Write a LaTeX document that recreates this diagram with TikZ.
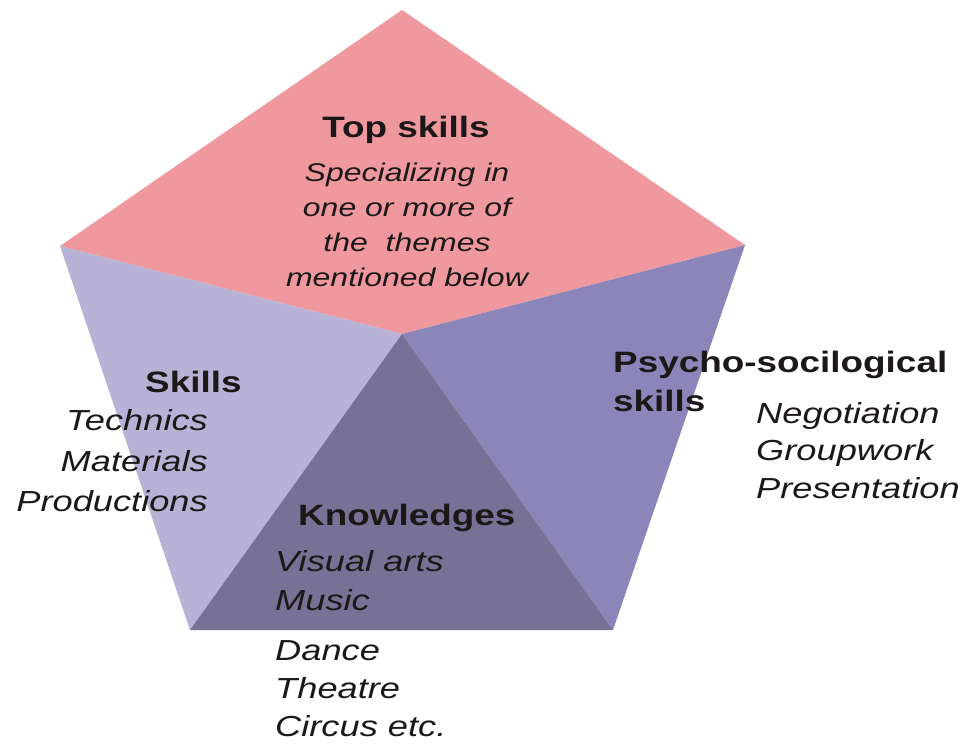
\documentclass[tikz,border=0pt]{standalone}
\usepackage{fontspec}
\setmainfont[FakeStretch=1.25]{Liberation Sans}
\definecolor{toppink}{RGB}{239,152,158}
\definecolor{leftlav}{RGB}{183,178,214}
\definecolor{rightlav}{RGB}{140,133,185}
\definecolor{midlav}{RGB}{120,113,150}
\definecolor{txt}{RGB}{28,24,24}
\begin{document}
\begin{tikzpicture}[x=1pt,y=-1pt,
  head/.style={font=\fontsize{29.5}{32}\selectfont\bfseries, inner sep=0pt, text=txt},
  item/.style={font=\fontsize{29}{32}\selectfont\itshape, inner sep=0pt, text=txt},
  topitem/.style={font=\fontsize{25.6}{28}\selectfont\itshape, inner sep=0pt, text=txt}]
\useasboundingbox (0,0) rectangle (967,748);
\fill[white] (0,0) rectangle (967,748);
% pentagon vertices
\coordinate (T) at (402,10);
\coordinate (UL) at (60,246);
\coordinate (UR) at (745,245);
\coordinate (LL) at (190,630);
\coordinate (LR) at (613,630);
\coordinate (C) at (402,334);
% faces
\fill[toppink] (T) -- (UR) -- (C) -- (UL) -- cycle;
\fill[leftlav] (UL) -- (C) -- (LL) -- cycle;
\fill[rightlav] (UR) -- (LR) -- (C) -- cycle;
\fill[midlav] (C) -- (LL) -- (LR) -- cycle;
% top face text
\node[head, anchor=base] (tophead) at (406,137) {Top skills};
\node[topitem, anchor=base] (top1) at (407,181.7) {Specializing in};
\node[topitem, anchor=base] (top2) at (407,216.7) {one or more of};
\node[topitem, anchor=base] (top3) at (407,251.7) {the\ \ themes};
\node[topitem, anchor=base] (top4) at (407,286.7) {mentioned below};
% left face text
\node[head, anchor=base west] (skillshead) at (145,392) {Skills};
\node[item, anchor=base east] (sk1) at (208,430) {Technics};
\node[item, anchor=base east] (sk2) at (208,471.7) {Materials};
\node[item, anchor=base east] (sk3) at (208,511.7) {Productions};
% right face text
\node[head, anchor=base west] (psyhead1) at (613,372) {Psycho-socilogical};
\node[head, anchor=base west] (psyhead2) at (613,411.7) {skills};
\node[item, anchor=base west] (ps1) at (756,423) {Negotiation};
\node[item, anchor=base west] (ps2) at (756,460.7) {Groupwork};
\node[item, anchor=base west] (ps3) at (756,498) {Presentation};
% bottom triangle text
\node[head, anchor=base west] (knowhead) at (298,525) {Knowledges};
\node[item, anchor=base west] (kn1) at (275,571.7) {Visual arts};
\node[item, anchor=base west] (kn2) at (275,610) {Music};
\node[item, anchor=base west] (kn3) at (275,660) {Dance};
\node[item, anchor=base west] (kn4) at (275,698) {Theatre};
\node[item, anchor=base west] (kn5) at (275,736.7) {Circus etc.};
\end{tikzpicture}
\end{document}
